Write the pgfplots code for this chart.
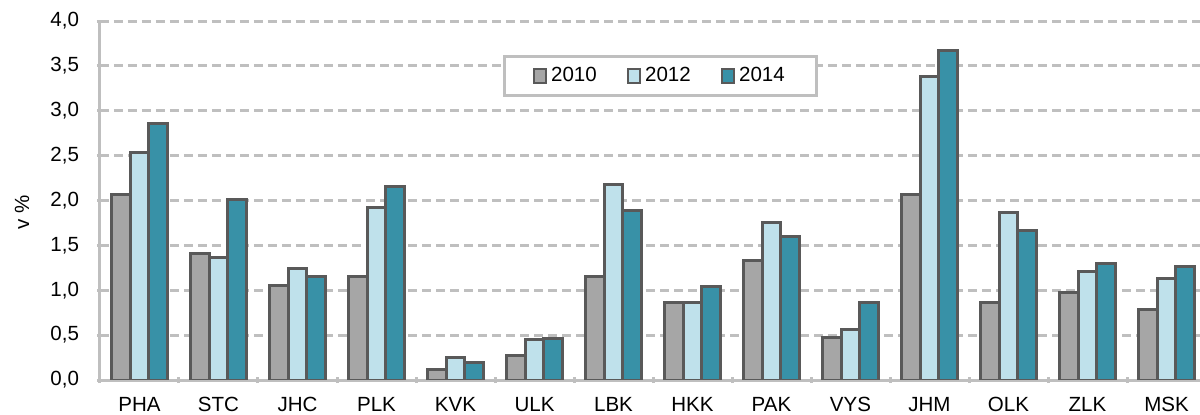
\documentclass[border=0pt]{standalone}
\usepackage{pgfplots}
\pgfplotsset{compat=1.18}
\usepackage{fontspec}
\setmainfont{Liberation Sans}
\definecolor{c2010}{HTML}{A6A6A6}
\definecolor{c2012}{HTML}{BFE1EB}
\definecolor{c2014}{HTML}{3891A7}
\definecolor{edge}{HTML}{595959}
\definecolor{gridc}{HTML}{BFBFBF}
\newcommand{\chartfont}{\fontsize{10.3}{12}\selectfont}

\begin{document}
\begin{tikzpicture}
\begin{axis}[
  at={(0,0)}, anchor=south west,
  scale only axis,
  width=553bp, height=179.5bp,
  ybar=0pt, bar width=9.2bp,
  xmin=-0.5, xmax=13.5,
  ymin=0, ymax=4,
  xtick={0,...,13},
  xticklabels={PHA,STC,JHC,PLK,KVK,ULK,LBK,HKK,PAK,VYS,JHM,OLK,ZLK,MSK},
  minor xtick={-0.5,0.5,...,13.5},
  major x tick style={draw=none},
  ytick={0,0.5,...,4},
  tick align=outside,
  major tick length=3bp, minor tick length=3bp,
  tick style={draw=gridc, line width=1.5bp},
  axis x line=bottom, axis y line=left,
  axis line style={draw=gridc, line width=1.5bp, -},
  ymajorgrids,
  major grid style={draw=gridc, line width=1.5bp, dash pattern=on 4.5bp off 2.5bp},
  extra y ticks={4}, extra y tick labels={},
  extra y tick style={grid style={solid, draw=gridc, line width=1.5bp}},
  yticklabel style={xshift=-5.5bp, /pgf/number format/.cd, use comma, fixed, fixed zerofill, precision=1, assume math mode=true},
  xticklabel style={yshift=-3.5bp},
  every tick label/.append style={font=\chartfont, text=black},
  ylabel={v \%},
  ylabel style={font=\chartfont, at={(axis description cs:-0.0705,0.468)}, anchor=center},
  legend columns=3,
  legend style={at={(0.507,0.847)}, anchor=center, draw=gridc, line width=1.5bp,
    font=\chartfont, inner xsep=14bp, inner ysep=3.5bp,
    /tikz/every even column/.append style={column sep=13bp}},
  legend image code/.code={\draw[#1, line width=1.2bp] (0bp,-3.5bp) rectangle (6bp,3.5bp);},
]
\addplot[fill=c2010, draw=edge, line width=1.5bp] coordinates {
  (0,2.07) (1,1.41) (2,1.05) (3,1.15) (4,0.12) (5,0.27) (6,1.15)
  (7,0.86) (8,1.33) (9,0.47) (10,2.07) (11,0.86) (12,0.97) (13,0.79)};
\addplot[fill=c2012, draw=edge, line width=1.5bp] coordinates {
  (0,2.53) (1,1.37) (2,1.24) (3,1.92) (4,0.25) (5,0.45) (6,2.18)
  (7,0.86) (8,1.76) (9,0.56) (10,3.38) (11,1.87) (12,1.21) (13,1.13)};
\addplot[fill=c2014, draw=edge, line width=1.5bp] coordinates {
  (0,2.86) (1,2.01) (2,1.15) (3,2.16) (4,0.19) (5,0.46) (6,1.89)
  (7,1.04) (8,1.60) (9,0.86) (10,3.67) (11,1.67) (12,1.30) (13,1.26)};
\legend{2010,2012,2014}
\end{axis}
\pgfresetboundingbox
\path[use as bounding box] (-50bp,-17.5bp) rectangle (550bp,190bp);
\end{tikzpicture}
\end{document}
